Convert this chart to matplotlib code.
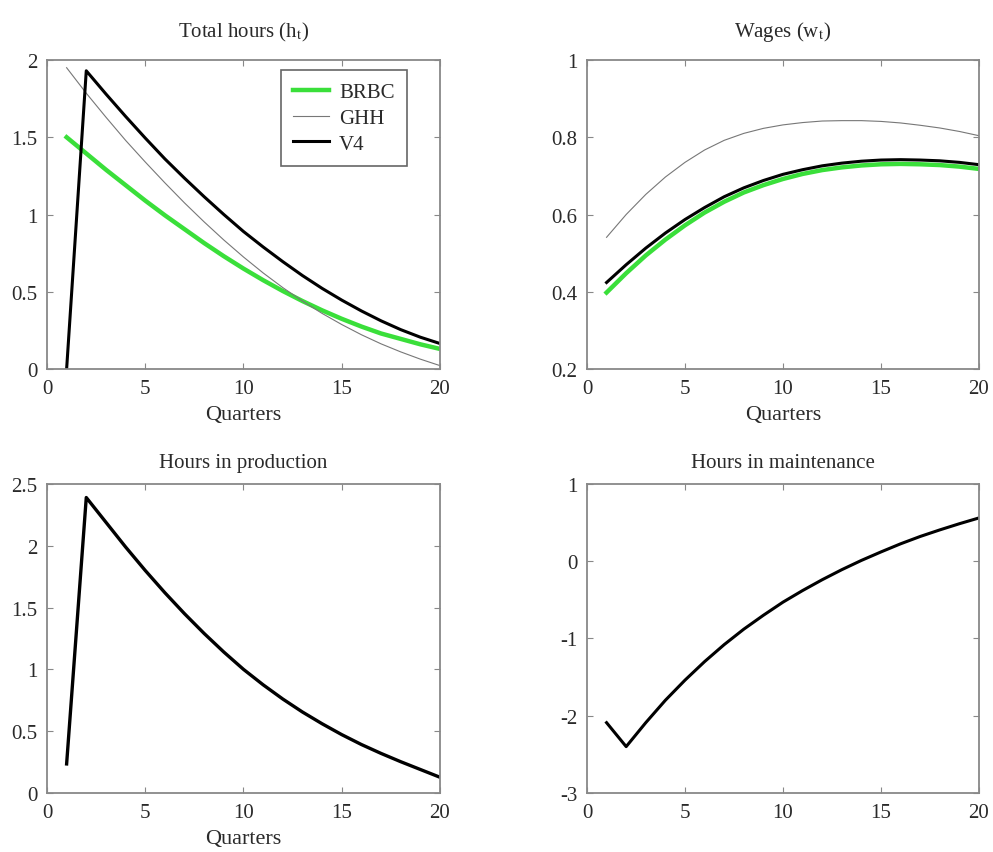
import numpy as np
import matplotlib
matplotlib.use('Agg')
import matplotlib.pyplot as plt
from matplotlib.ticker import FormatStrFormatter

plt.rcParams['font.family'] = 'Liberation Serif'
plt.rcParams['mathtext.fontset'] = 'stix'
plt.rcParams['axes.unicode_minus'] = False

# quarters after the shock
quarters = np.arange(1, 21)

# total hours
hours_brbc = [1.50, 1.395, 1.29, 1.19, 1.09, 0.995, 0.905, 0.815, 0.73, 0.65,
              0.575, 0.505, 0.44, 0.38, 0.325, 0.275, 0.23, 0.195, 0.16, 0.13]
hours_ghh = [1.95, 1.785, 1.63, 1.48, 1.34, 1.205, 1.075, 0.952, 0.835, 0.725,
             0.622, 0.527, 0.44, 0.36, 0.288, 0.222, 0.163, 0.111, 0.064, 0.022]
hours_v4 = [0.0, 1.93, 1.78, 1.635, 1.495, 1.36, 1.235, 1.115, 1.0, 0.89,
            0.79, 0.695, 0.605, 0.522, 0.446, 0.376, 0.312, 0.255, 0.206, 0.165]

# wages
wage_brbc = [0.398, 0.448, 0.494, 0.535, 0.572, 0.605, 0.633, 0.657, 0.676, 0.692,
             0.705, 0.715, 0.722, 0.727, 0.730, 0.731, 0.730, 0.728, 0.724, 0.718]
wage_ghh = [0.541, 0.60, 0.652, 0.697, 0.735, 0.767, 0.792, 0.810, 0.823, 0.832,
            0.838, 0.842, 0.843, 0.843, 0.841, 0.837, 0.831, 0.824, 0.815, 0.804]
wage_v4 = [0.424, 0.47, 0.513, 0.552, 0.587, 0.618, 0.646, 0.669, 0.688, 0.704,
           0.716, 0.726, 0.733, 0.738, 0.741, 0.742, 0.741, 0.739, 0.735, 0.729]

# V4 hours split
prod_hours = [0.235, 2.39, 2.19, 1.99, 1.80, 1.62, 1.45, 1.29, 1.14, 1.00,
              0.875, 0.76, 0.655, 0.56, 0.472, 0.392, 0.32, 0.253, 0.19, 0.127]
maint_hours = [-2.09, -2.40, -2.09, -1.80, -1.54, -1.30, -1.08, -0.88, -0.70, -0.53,
               -0.38, -0.24, -0.11, 0.01, 0.12, 0.225, 0.32, 0.405, 0.485, 0.56]

green = '#3adf3a'
txt = '#2a2a2a'
fs = 15

fig = plt.figure(figsize=(9.93, 8.53), dpi=100)
ax1 = fig.add_axes([0.0473, 0.5662, 0.3958, 0.3623])
ax2 = fig.add_axes([0.5911, 0.5662, 0.3948, 0.3623])
ax3 = fig.add_axes([0.0473, 0.0692, 0.3958, 0.3623])
ax4 = fig.add_axes([0.5911, 0.0692, 0.3948, 0.3623])

ax1.plot(quarters, hours_brbc, color=green, lw=3.2, label='BRBC')
ax1.plot(quarters, hours_ghh, color='#777777', lw=0.8, label='GHH')
ax1.plot(quarters, hours_v4, color='black', lw=2.2, label='V4')
ax1.set_ylim(0, 2)
ax1.set_yticks([0, 0.5, 1, 1.5, 2])
ax1.set_xlabel('Quarters')
leg = ax1.legend(loc='upper right', bbox_to_anchor=(0.916, 0.968), fancybox=False,
                 edgecolor='#666666', framealpha=1, handlelength=1.7,
                 handletextpad=0.5, borderpad=0.6, labelspacing=0.3,
                 borderaxespad=0, fontsize=fs)
leg.get_frame().set_linewidth(1.2)
for t in leg.get_texts():
    t.set_color(txt)

ax2.plot(quarters, wage_brbc, color=green, lw=3.2)
ax2.plot(quarters, wage_ghh, color='#777777', lw=0.8)
ax2.plot(quarters, wage_v4, color='black', lw=2.2)
ax2.set_ylim(0.2, 1)
ax2.set_yticks([0.2, 0.4, 0.6, 0.8, 1])
ax2.set_xlabel('Quarters')

ax3.plot(quarters, prod_hours, color='black', lw=2.4)
ax3.set_ylim(0, 2.5)
ax3.set_yticks([0, 0.5, 1, 1.5, 2, 2.5])
ax3.set_xlabel('Quarters')

ax4.plot(quarters, maint_hours, color='black', lw=2.2)
ax4.set_ylim(-3, 1)
ax4.set_yticks([-3, -2, -1, 0, 1])

titles = [r'Total hours (h$_\mathrm{t}$)', r'Wages (w$_\mathrm{t}$)',
          'Hours in production', 'Hours in maintenance']
pads = [17, 17, 12, 12]

for ax, title, pad in zip((ax1, ax2, ax3, ax4), titles, pads):
    ax.set_title(title, pad=pad, fontsize=fs, color=txt)
    ax.set_xlim(0, 20)
    ax.set_xticks([0, 5, 10, 15, 20])
    ax.yaxis.set_major_formatter(FormatStrFormatter('%g'))
    ax.tick_params(direction='in', top=True, right=True, length=4,
                   color='#888888', labelsize=fs, labelcolor=txt, pad=7)
    for s in ax.spines.values():
        s.set_color('#888888')
        s.set_linewidth(1.3)
    ax.xaxis.label.set_fontsize(fs + 1)
    ax.xaxis.label.set_color(txt)
    ax.xaxis.labelpad = 5

fig.savefig('out.png', dpi=100)
